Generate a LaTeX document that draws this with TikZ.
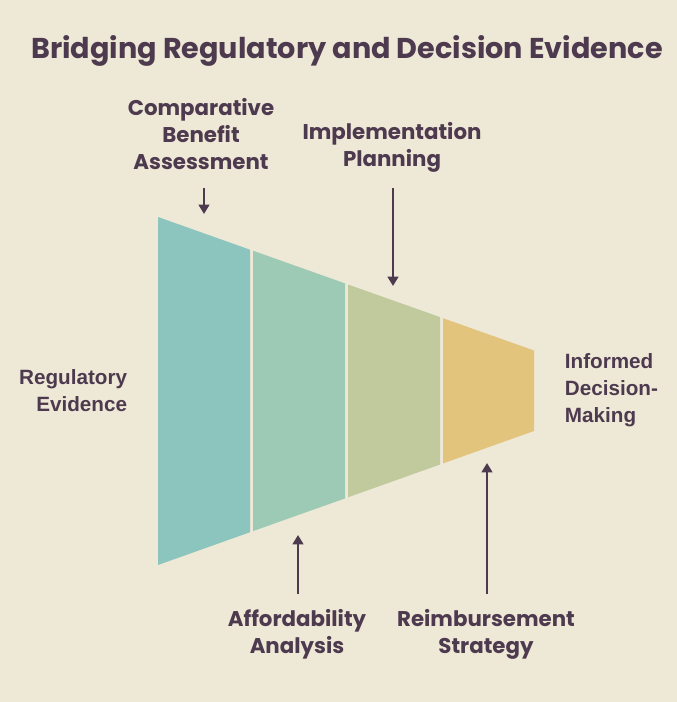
\documentclass[tikz,border=0pt]{standalone}
\usepackage{fontspec}
\usetikzlibrary{arrows.meta}
\newfontfamily\handfont{Poppins}
\newfontfamily\labelfont{Liberation Sans}
\definecolor{bgcream}{HTML}{EEE8D7}
\definecolor{inkplum}{HTML}{4E3A4E}
\definecolor{segteal}{HTML}{8CC5BE}
\definecolor{segmint}{HTML}{9DCAB4}
\definecolor{segsage}{HTML}{C0CA9C}
\definecolor{segsand}{HTML}{E2C47C}

\tikzset{every picture/.style={line width=0.75pt}}

\begin{document}
\begin{tikzpicture}[x=0.75pt,y=0.75pt,yscale=-1,xscale=1,
	handtext/.style={text=inkplum,font=\handfont\bfseries\fontsize{16}{20.25}\selectfont,align=center},
	sidetext/.style={text=inkplum,font=\labelfont\bfseries\fontsize{15.5}{20.25}\selectfont},
	pointer/.style={draw=inkplum,line width=1.6pt,-{Triangle[length=7pt,width=8pt]}}]
	%set diagram to 677 x 702
	\fill[bgcream] (0,0) rectangle (677,702);
	\useasboundingbox (0,0) rectangle (677,702);

	%Shape: Funnel segment 1
	\fill[segteal] (158,217) -- (250,249.7) -- (250,532.2) -- (158,565) -- cycle;
	%Shape: Funnel segment 2
	\fill[segmint] (253,250.7) -- (345,283.4) -- (345,498.4) -- (253,531.1) -- cycle;
	%Shape: Funnel segment 3
	\fill[segsage] (348,284.5) -- (440,317.1) -- (440,464.5) -- (348,497.3) -- cycle;
	%Shape: Funnel segment 4
	\fill[segsand] (443,318.2) -- (534,350.5) -- (534,431) -- (443,463.4) -- cycle;

	% Text Node
	\node (title) at (347,51) [text=inkplum,font=\handfont\bfseries\fontsize{21.5}{26}\selectfont] {Bridging Regulatory and Decision Evidence};
	% Text Node
	\node (compare) at (201,134) [handtext] {Comparative\\Benefit\\Assessment};
	% Text Node
	\node (implement) at (392,147.5) [handtext] {Implementation\\Planning};
	% Text Node
	\node (afford) at (297,634.5) [handtext] {Affordability\\Analysis};
	% Text Node
	\node (reimburse) at (486,634.5) [handtext] {Reimbursement\\Strategy};
	% Text Node
	\node (regulatory) at (132,391) [sidetext,anchor=east,align=right] {Regulatory\\Evidence};
	% Text Node
	\node (informed) at (560,390) [sidetext,anchor=west,align=left] {Informed\\Decision-\\Making};

	%Arrow ends
	\coordinate (compareTop) at (204,188);
	\coordinate (compareTip) at (204,214);
	\coordinate (implementTop) at (393,188);
	\coordinate (implementTip) at (393,286);
	\coordinate (affordFoot) at (298,594);
	\coordinate (affordTip) at (298,535);
	\coordinate (reimburseFoot) at (487,594);
	\coordinate (reimburseTip) at (487,463);

	%Straight Lines
	\draw[pointer] (compareTop) -- (compareTip);
	%Straight Lines
	\draw[pointer] (implementTop) -- (implementTip);
	%Straight Lines
	\draw[pointer] (affordFoot) -- (affordTip);
	%Straight Lines
	\draw[pointer] (reimburseFoot) -- (reimburseTip);

\end{tikzpicture}
\end{document}
